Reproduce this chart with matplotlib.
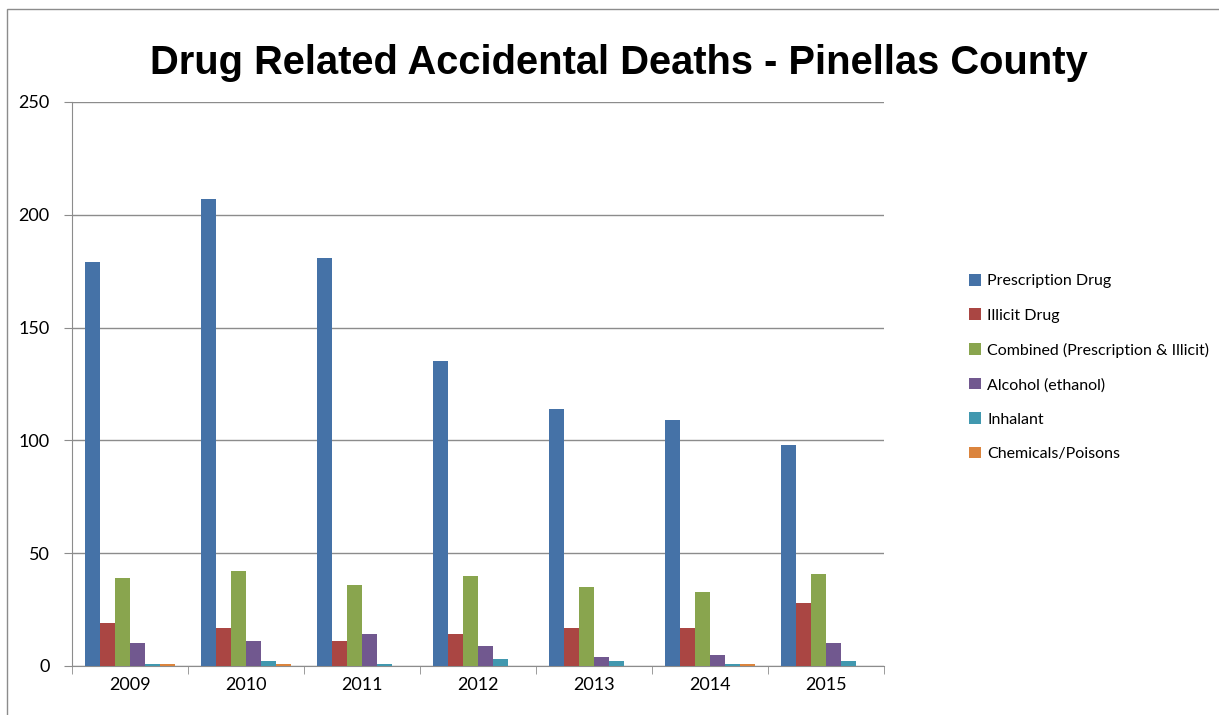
import matplotlib
matplotlib.use("Agg")
import matplotlib.pyplot as plt
import numpy as np
from matplotlib.patches import Rectangle, Patch

years = ["2009", "2010", "2011", "2012", "2013", "2014", "2015"]
prescription = [179, 207, 181, 135, 114, 109, 98]
illicit = [19, 17, 11, 14, 17, 17, 28]
combined = [39, 42, 36, 40, 35, 33, 41]
alcohol = [10, 11, 14, 9, 4, 5, 10]
inhalant = [1, 2, 1, 3, 2, 1, 2]
chemicals = [1, 1, 0, 0, 0, 1, 0]

series_names = ["Prescription Drug", "Illicit Drug", "Combined (Prescription & Illicit)",
                "Alcohol (ethanol)", "Inhalant", "Chemicals/Poisons"]
series = [prescription, illicit, combined, alcohol, inhalant, chemicals]
colors = ["#4572A7", "#AA4643", "#89A54E", "#71588F", "#4198AF", "#DB843D"]

fig = plt.figure(figsize=(12.19, 7.15), dpi=100)
fig.patches.append(Rectangle((7/1219, -0.05), 1.2, 1.05 - 9/715, transform=fig.transFigure,
                             fill=False, edgecolor="#8c8c8c", linewidth=1))

ax = fig.add_axes([72/1219, 1-666/715, 812/1219, 564/715])
x = np.arange(len(years))
bw = 0.13
n = len(series)
for i, (vals, c) in enumerate(zip(series, colors)):
    ax.bar(x + (i - (n-1)/2) * bw, vals, width=bw, color=c, zorder=3, linewidth=0)

ax.set_xlim(-0.5, len(years) - 0.5)
ax.set_ylim(0, 250)
ax.set_yticks(range(0, 251, 50))
ax.set_xticks(x)
ax.set_xticklabels(years, fontfamily="Lato", fontsize=13)
ax.set_xticks(np.arange(-0.5, len(years), 1), minor=True)
ax.tick_params(axis="x", which="major", length=0, pad=8)
ax.tick_params(axis="x", which="minor", length=6, color="#8c8c8c", direction="out")
ax.tick_params(axis="y", length=6, color="#8c8c8c", direction="out", pad=10)
for lab in ax.get_yticklabels():
    lab.set_fontfamily("Lato")
    lab.set_fontsize(13)
ax.grid(axis="y", color="#8c8c8c", linewidth=1, zorder=0)
for s in ["top", "right"]:
    ax.spines[s].set_visible(False)
for s in ["left", "bottom"]:
    ax.spines[s].set_color("#8c8c8c")

fig.text(619/1219, 1-63/715, "Drug Related Accidental Deaths - Pinellas County",
         ha="center", va="center", fontfamily="Liberation Sans", fontweight="bold", fontsize=28.7)

handles = [Patch(facecolor=c, edgecolor="none") for c in colors]
fig.legend(handles, series_names, loc="upper left", bbox_to_anchor=(969/1219, 1-274/715),
           frameon=False, prop={"family": "Lato", "size": 11.5}, handlelength=0.75, handleheight=0.75,
           handletextpad=0.4, labelspacing=1.25, borderaxespad=0, borderpad=0)

fig.savefig("out.png", dpi=100)
